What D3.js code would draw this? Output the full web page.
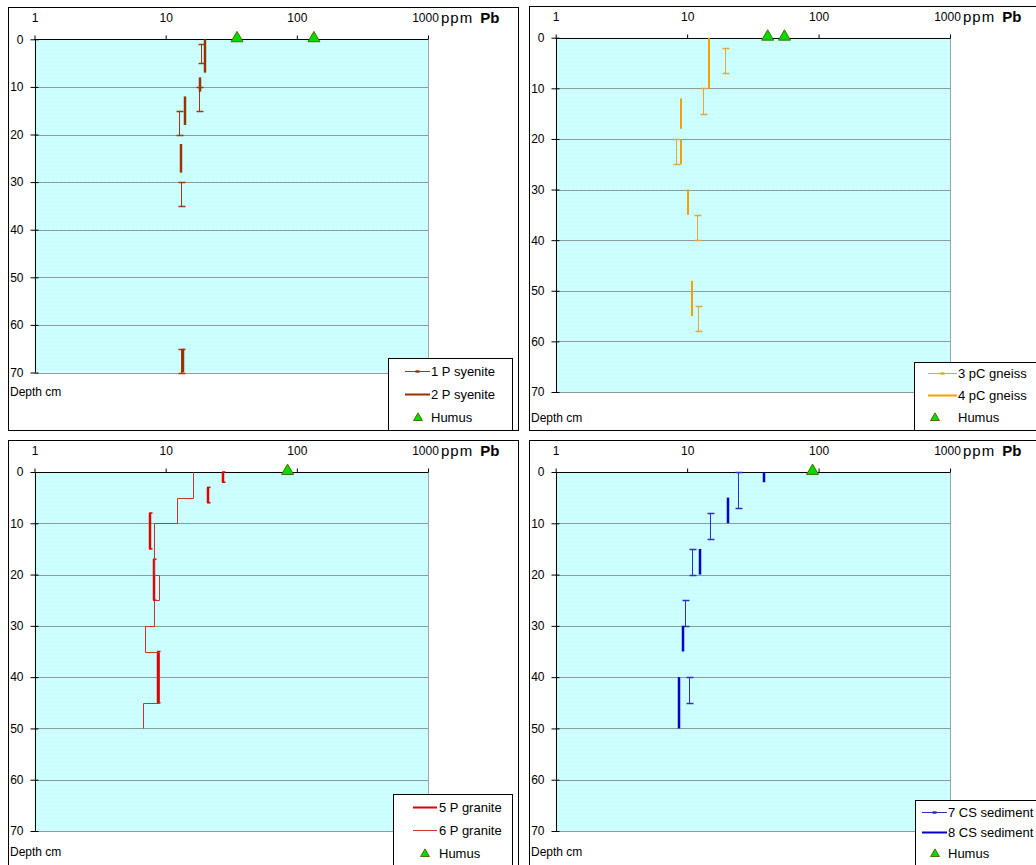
<!DOCTYPE html>
<html>
<head>
<meta charset="utf-8">
<script src="https://cdn.jsdelivr.net/npm/d3@7"></script>
<style>
  body { margin: 0; background: #fff; }
  svg { display: block; font-family: "Liberation Sans", Arial, sans-serif; }
</style>
</head>
<body>
<svg id="chart" width="1036" height="865"></svg>
<script>
// Axis ticks
const pbTicks = [1, 10, 100, 1000];
const depthTicks = [0, 10, 20, 30, 40, 50, 60, 70];

// P syenite profiles (Pb ppm over a depth interval, cm)
const syenite1Pb  = [18.5, 18.1, 12.7, 13.2, 13.0];
const syenite1Top = [1, 10, 15, 30, 65];
const syenite1Bot = [5, 15, 20, 35, 70];
const syenite2Pb  = [19.8, 18.3, 14.0, 13.1, 13.6];
const syenite2Top = [0, 8, 12, 22, 65];
const syenite2Bot = [7, 11, 18, 28, 70];
const humusSyenite = [35, 135];

// pC gneiss profiles
const gneiss3Pb  = [19.4, 13.1, 8.3, 11.8, 12.0];
const gneiss3Top = [2, 10, 20, 35, 53];
const gneiss3Bot = [7, 15, 25, 40, 58];
const gneiss4Pb  = [14.6, 9.0, 9.0, 10.2, 10.9];
const gneiss4Top = [0, 12, 20, 30, 48];
const gneiss4Bot = [10, 18, 25, 35, 55];
const humusGneiss = [41, 55];

// P granite profiles
const granite5Pb  = [27.3, 20.9, 7.6, 8.1, 8.8];
const granite5Top = [0, 3, 8, 17, 35];
const granite5Bot = [2, 6, 15, 25, 45];
const granite6Pb  = [16.1, 12.2, 8.2, 8.9, 8.2, 7.0, 8.9, 6.7];
const granite6Top = [0, 5, 10, 20, 25, 30, 35, 45];
const granite6Bot = [5, 10, 20, 25, 30, 35, 45, 50];
const humusGranite = [85];

// CS sediment profiles
const sediment7Pb  = [24.5, 14.9, 10.9, 9.6, 10.3];
const sediment7Top = [0, 8, 15, 25, 40];
const sediment7Bot = [7, 13, 20, 30, 45];
const sediment8Pb  = [38.5, 20.4, 12.5, 9.3, 8.7];
const sediment8Top = [0, 5, 15, 30, 40];
const sediment8Bot = [2, 10, 20, 35, 50];
const humusSediment = [90];

const rows = (pb, top, bot) => pb.map((v, i) => ({ pb: v, top: top[i], bot: bot[i] }));

const panels = [
  {
    frame: { x: 8, y: 7, w: 510, h: 423 },
    plot: { left: 34.5, right: 428, top: 39.3, bottom: 372.5 },
    depthLabelY: 392,
    legend: { x: 388, y: 358, w: 124, h: 72, rows: [371, 394, 417], line: [405, 430], text: 431, tri: 418 },
    thin:  { name: "1 P syenite", data: rows(syenite1Pb, syenite1Top, syenite1Bot), color: "#9a3a10", mode: "bar" },
    thick: { name: "2 P syenite", data: rows(syenite2Pb, syenite2Top, syenite2Bot), color: "#993300", caps: false, width: 2.5 },
    humus: humusSyenite
  },
  {
    frame: { x: 529, y: 6, w: 520, h: 424 },
    plot: { left: 555.7, right: 950, top: 37.7, bottom: 392 },
    depthLabelY: 418,
    legend: { x: 914, y: 362, w: 140, h: 68, rows: [373, 395, 417], line: [928, 957], text: 958, tri: 935 },
    thin:  { name: "3 pC gneiss", data: rows(gneiss3Pb, gneiss3Top, gneiss3Bot), color: "#E8A53A", mode: "bar" },
    thick: { name: "4 pC gneiss", data: rows(gneiss4Pb, gneiss4Top, gneiss4Bot), color: "#F5A000", caps: false, width: 2 },
    humus: humusGneiss
  },
  {
    frame: { x: 8, y: 440, w: 510, h: 440 },
    plot: { left: 34.5, right: 428, top: 472, bottom: 831 },
    depthLabelY: 852,
    legend: { x: 393, y: 794, w: 119, h: 80, rows: [807, 830, 853], line: [413, 437], text: 439, tri: 425 },
    thin:  { name: "6 P granite", data: rows(granite6Pb, granite6Top, granite6Bot), color: "#C83232", mode: "step" },
    thick: { name: "5 P granite", data: rows(granite5Pb, granite5Top, granite5Bot), color: "#E00000", caps: true, width: 2.5 },
    thickFirst: true,
    humus: humusGranite
  },
  {
    frame: { x: 529, y: 440, w: 520, h: 440 },
    plot: { left: 555.7, right: 950, top: 472, bottom: 831 },
    depthLabelY: 852,
    legend: { x: 915, y: 800, w: 140, h: 80, rows: [812, 832, 853], line: [922, 947], text: 948, tri: 935 },
    thin:  { name: "7 CS sediment", data: rows(sediment7Pb, sediment7Top, sediment7Bot), color: "#3030C0", mode: "bar" },
    thick: { name: "8 CS sediment", data: rows(sediment8Pb, sediment8Top, sediment8Bot), color: "#0000CC", caps: false, width: 2.5 },
    humus: humusSediment
  }
];

const svg = d3.select("#chart");

// faint dotted texture used for the plot areas
const defs = svg.append("defs");
const pat = defs.append("pattern").attr("id", "cyanDots")
  .attr("width", 4).attr("height", 4).attr("patternUnits", "userSpaceOnUse");
pat.append("rect").attr("width", 4).attr("height", 4).attr("fill", "#ccffff");
pat.append("rect").attr("x", 1).attr("y", 1).attr("width", 1).attr("height", 1).attr("fill", "#c2f4f4");
pat.append("rect").attr("x", 3).attr("y", 3).attr("width", 1).attr("height", 1).attr("fill", "#d8ffff");

panels.forEach(p => {
  const g = svg.append("g");
  const x = d3.scaleLog().domain([1, 1000]).range([p.plot.left, p.plot.right]);
  const y = d3.scaleLinear().domain([0, 70]).range([p.plot.top, p.plot.bottom]);

  // frame
  g.append("rect")
    .attr("x", p.frame.x + 0.5).attr("y", p.frame.y + 0.5)
    .attr("width", p.frame.w).attr("height", p.frame.h)
    .attr("fill", "#fff").attr("stroke", "#000").attr("stroke-width", 1);

  // plot area
  g.append("rect")
    .attr("x", p.plot.left).attr("y", p.plot.top)
    .attr("width", p.plot.right - p.plot.left).attr("height", p.plot.bottom - p.plot.top)
    .attr("fill", "url(#cyanDots)");

  // horizontal gridlines
  g.append("g").selectAll("line").data(depthTicks.slice(1)).join("line")
    .attr("x1", p.plot.left).attr("x2", p.plot.right)
    .attr("y1", d => Math.round(y(d)) + 0.5).attr("y2", d => Math.round(y(d)) + 0.5)
    .attr("stroke", "#8c9c9c").attr("stroke-width", 1.2);

  // right edge of plot area
  g.append("line")
    .attr("x1", Math.round(p.plot.right) + 0.5).attr("x2", Math.round(p.plot.right) + 0.5)
    .attr("y1", p.plot.top).attr("y2", p.plot.bottom)
    .attr("stroke", "#9aa8a8");

  // top (Pb) axis
  const xAxis = d3.axisTop(x).tickValues(pbTicks).tickFormat(d3.format("d"))
    .tickSize(4).tickPadding(14);
  const gx = g.append("g").attr("transform", `translate(0,${Math.round(p.plot.top) + 0.5})`).call(xAxis);
  gx.select(".domain").attr("stroke", "#000").attr("d", `M${p.plot.left},0H${p.plot.right}`);
  gx.selectAll("text").attr("font-size", 12).attr("fill", "#000").attr("font-family", "Liberation Sans, Arial, sans-serif")
    .attr("dx", d => d === 1000 ? -3 : 0);

  // unit label
  const unit = g.append("text")
    .attr("x", p.plot.right + 13).attr("y", p.plot.top - 16)
    .attr("fill", "#000");
  unit.append("tspan").attr("font-size", 15).attr("letter-spacing", 1).text("ppm");
  unit.append("tspan").attr("dx", 7).attr("font-size", 15).attr("font-weight", "bold").text("Pb");

  // left (depth) axis
  const yAxis = d3.axisLeft(y).tickValues(depthTicks).tickSize(5).tickPadding(7);
  const gy = g.append("g").attr("transform", `translate(${Math.round(p.plot.left) + 0.5},0)`).call(yAxis);
  gy.select(".domain").attr("stroke", "#000").attr("d", `M0,${p.plot.top}V${p.plot.bottom}`);
  gy.selectAll(".tick line").attr("x1", 3);
  gy.selectAll("text").attr("font-size", 12).attr("fill", "#000").attr("font-family", "Liberation Sans, Arial, sans-serif");

  g.append("text")
    .attr("x", p.frame.x + 2).attr("y", p.depthLabelY + 4)
    .attr("font-size", 12).attr("fill", "#000").text("Depth cm");

  // thin series
  const drawThin = () => {
    const s = p.thin;
    const sg = g.append("g").attr("stroke", s.color).attr("fill", "none").attr("stroke-width", 1);
    if (s.mode === "step") {
      const pts = [];
      s.data.forEach(d => { pts.push([d.pb, d.top]); pts.push([d.pb, d.bot]); });
      sg.append("path")
        .attr("d", d3.line().x(d => Math.round(x(d[0])) + 0.5).y(d => Math.round(y(d[1])) + 0.5)(pts));
    } else {
      s.data.forEach(d => {
        const cx = Math.round(x(d.pb)) + 0.5;
        const y0 = Math.round(y(d.top)) + 0.5, y1 = Math.round(y(d.bot)) + 0.5;
        sg.append("line").attr("x1", cx).attr("x2", cx).attr("y1", y0).attr("y2", y1);
        [y0, y1].forEach(yy => sg.append("line")
          .attr("x1", cx - 3).attr("x2", cx + 4).attr("y1", yy).attr("y2", yy).attr("stroke-width", 1.5));
      });
    }
  };
  // thick series
  const drawThick = () => {
    const s = p.thick;
    const sg = g.append("g").attr("stroke", s.color).attr("fill", "none");
    s.data.forEach(d => {
      const cx = Math.round(x(d.pb));
      const y0 = y(d.top), y1 = y(d.bot);
      sg.append("line").attr("x1", cx).attr("x2", cx).attr("y1", y0).attr("y2", y1)
        .attr("stroke-width", s.width);
      if (s.caps) {
        [y0, y1].forEach(yy => sg.append("line")
          .attr("x1", cx - 1).attr("x2", cx + 2.5).attr("y1", yy).attr("y2", yy).attr("stroke-width", 1.5));
      }
    });
  };
  if (p.thickFirst) { drawThick(); drawThin(); } else { drawThin(); drawThick(); }

  // humus points at the surface
  const tri = d3.symbol(d3.symbolTriangle).size(62);
  g.append("g").selectAll("path").data(p.humus).join("path")
    .attr("transform", d => `translate(${x(d)},${p.plot.top - 1})`)
    .attr("d", tri)
    .attr("fill", "#00dd00").attr("stroke", "#4d6b00").attr("stroke-width", 1);

  // legend
  const L = p.legend;
  const lg = g.append("g");
  lg.append("rect").attr("x", L.x + 0.5).attr("y", L.y + 0.5).attr("width", L.w).attr("height", L.h)
    .attr("fill", "#fff").attr("stroke", "#000");
  const order = p.thickFirst ? [p.thick, p.thin] : [p.thin, p.thick];
  order.forEach((s, i) => {
    const ry = L.rows[i] + 0.5;
    const isThin = s === p.thin;
    lg.append("line").attr("x1", L.line[0]).attr("x2", L.line[1]).attr("y1", ry).attr("y2", ry)
      .attr("stroke", s.color).attr("stroke-width", isThin ? 1 : 2);
    if (isThin && s.mode === "bar") {
      const mx = (L.line[0] + L.line[1]) / 2;
      lg.append("line").attr("x1", mx - 2).attr("x2", mx + 2).attr("y1", ry).attr("y2", ry)
        .attr("stroke", s.color).attr("stroke-width", 2.5);
    }
    lg.append("text").attr("x", L.text).attr("y", L.rows[i] + 4.5)
      .attr("font-size", 13).attr("fill", "#000").text(s.name);
  });
  lg.append("path")
    .attr("transform", `translate(${L.tri},${L.rows[2] + 1})`)
    .attr("d", d3.symbol(d3.symbolTriangle).size(34))
    .attr("fill", "#00dd00").attr("stroke", "#4d6b00");
  lg.append("text").attr("x", L.text).attr("y", L.rows[2] + 4.5)
    .attr("font-size", 13).attr("fill", "#000").text("Humus");
});
</script>
</body>
</html>
